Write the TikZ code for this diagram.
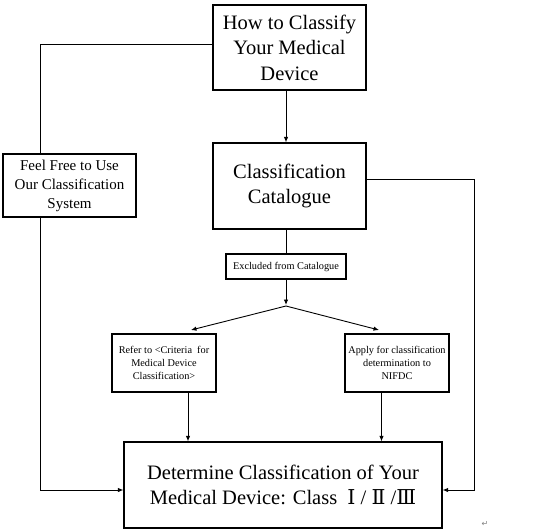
\documentclass[tikz,border=0pt]{standalone}
\usepackage{fontspec}
\setmainfont{Liberation Serif}
\newfontfamily\tms{Liberation Serif}
\newfontfamily\djv{DejaVu Sans}
\newfontfamily\djs{DejaVu Serif}
\usetikzlibrary{arrows.meta}
\begin{document}
\begin{tikzpicture}[x=1pt,y=-1pt,
  box/.style={draw, line width=1.2pt, inner sep=0pt, align=center, anchor=center},
  big/.style={font=\tms\fontsize{20.5}{25.5}\selectfont},
  mid/.style={font=\tms\fontsize{15}{19}\selectfont},
  small/.style={font=\tms\fontsize{10.3}{12.7}\selectfont},
  conn/.style={line width=0.9pt},
  arr/.style={conn, -{Latex[length=5.5pt,width=4.5pt]}}]
\useasboundingbox (0,0) rectangle (539,531);
\node[box,big,minimum width=153pt,minimum height=85pt] (how) at (289.5,47.5) {How to Classify\\Your Medical\\Device};
\node[box,big,minimum width=153pt,minimum height=86pt] (cat) at (289.5,186) {Classification\\Catalogue};
\node[box,mid,minimum width=133pt,minimum height=63pt] (feel) at (69.5,185.5) {Feel Free to Use\\Our Classification\\System};
\node[box,small,minimum width=120pt,minimum height=25pt] (excl) at (286,266.5) {Excluded from Catalogue};
\node[box,small,minimum width=104pt,minimum height=58pt] (refer) at (164,363) {Refer to <Criteria\ \ for\\Medical Device\\Classification>};
\node[box,small,minimum width=104pt,minimum height=58pt] (apply) at (397,363) {Apply for classification\\determination to\\NIFDC};
\node[box,big,minimum width=318pt,minimum height=86pt] (final) at (283,485) {Determine Classification of Your\\Medical Device: Class\ \ {\djs Ⅰ} / {\djs Ⅱ} /{\djs Ⅲ}};
\node[font=\djv\fontsize{8}{8}\selectfont, text=gray] (mark) at (485,524) {↵};
% connectors
\coordinate (lt) at (40,44);
\coordinate (lb) at (40,490);
\coordinate (rt) at (474,179);
\coordinate (rb) at (474,490);
\coordinate (jn) at (286,305);
\coordinate (jl) at (191,330);
\coordinate (jr) at (379,330);
\draw[arr] ([xshift=-3.5pt]how.south) -- ([xshift=-3.5pt]cat.north);
\draw[conn] ([yshift=3.5pt]how.west) -- (lt) -- (lt |- feel.north);
\draw[arr] (lt |- feel.south) -- (lb) -- (lb -| final.west);
\draw[arr] ([yshift=7pt]cat.east) -- (rt) -- (rb) -- (rb -| final.east);
\draw[conn] (cat.south -| excl.north) -- (excl.north);
\draw[arr] (excl.south) -- (jn);
\draw[arr] ([yshift=-1pt]jn) -- (jl);
\draw[arr] ([yshift=-1pt]jn) -- (jr);
\draw[arr] ([xshift=24pt]refer.south) -- ([xshift=24pt]refer.south |- final.north);
\draw[arr] ([xshift=-15.5pt]apply.south) -- ([xshift=-15.5pt]apply.south |- final.north);
\end{tikzpicture}
\end{document}
